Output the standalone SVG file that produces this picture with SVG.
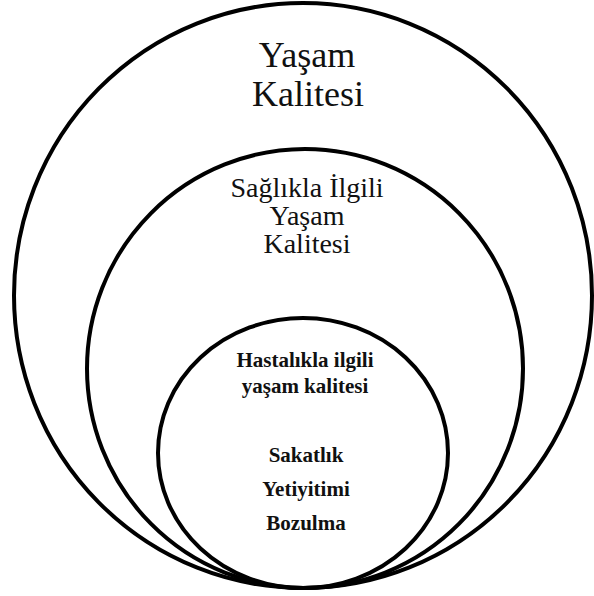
<svg xmlns="http://www.w3.org/2000/svg" width="594" height="596" viewBox="0 0 594 596">
<style>
.c{fill:none;stroke:#000;stroke-width:4}
.t{font-family:'Liberation Serif','Times New Roman',Tinos,'DejaVu Serif',serif;fill:#111;text-anchor:middle}
.l{font-size:36px}
.m{font-size:28px}
.s{font-size:21px;font-weight:bold}
</style>
<rect width="594" height="596" fill="#fff"/>
<g id="outer">
<ellipse class="c" cx="303" cy="295.5" rx="289" ry="292.5"/>
<text class="t l" x="307" y="67">Yaşam</text>
<text class="t l" x="308" y="106">Kalitesi</text>
</g>
<g id="middle">
<ellipse class="c" cx="305" cy="368.5" rx="218" ry="219.5"/>
<text class="t m" x="307" y="197">Sağlıkla İlgili</text>
<text class="t m" x="307" y="225">Yaşam</text>
<text class="t m" x="307" y="253">Kalitesi</text>
</g>
<g id="inner">
<ellipse class="c" cx="303" cy="453" rx="145" ry="135"/>
<text class="t s" x="305" y="367">Hastalıkla ilgili</text>
<text class="t s" x="305" y="393">yaşam kalitesi</text>
<text class="t s" x="306" y="462">Sakatlık</text>
<text class="t s" x="306" y="496">Yetiyitimi</text>
<text class="t s" x="306" y="530">Bozulma</text>
</g>
<g id="connectors"/>
</svg>
